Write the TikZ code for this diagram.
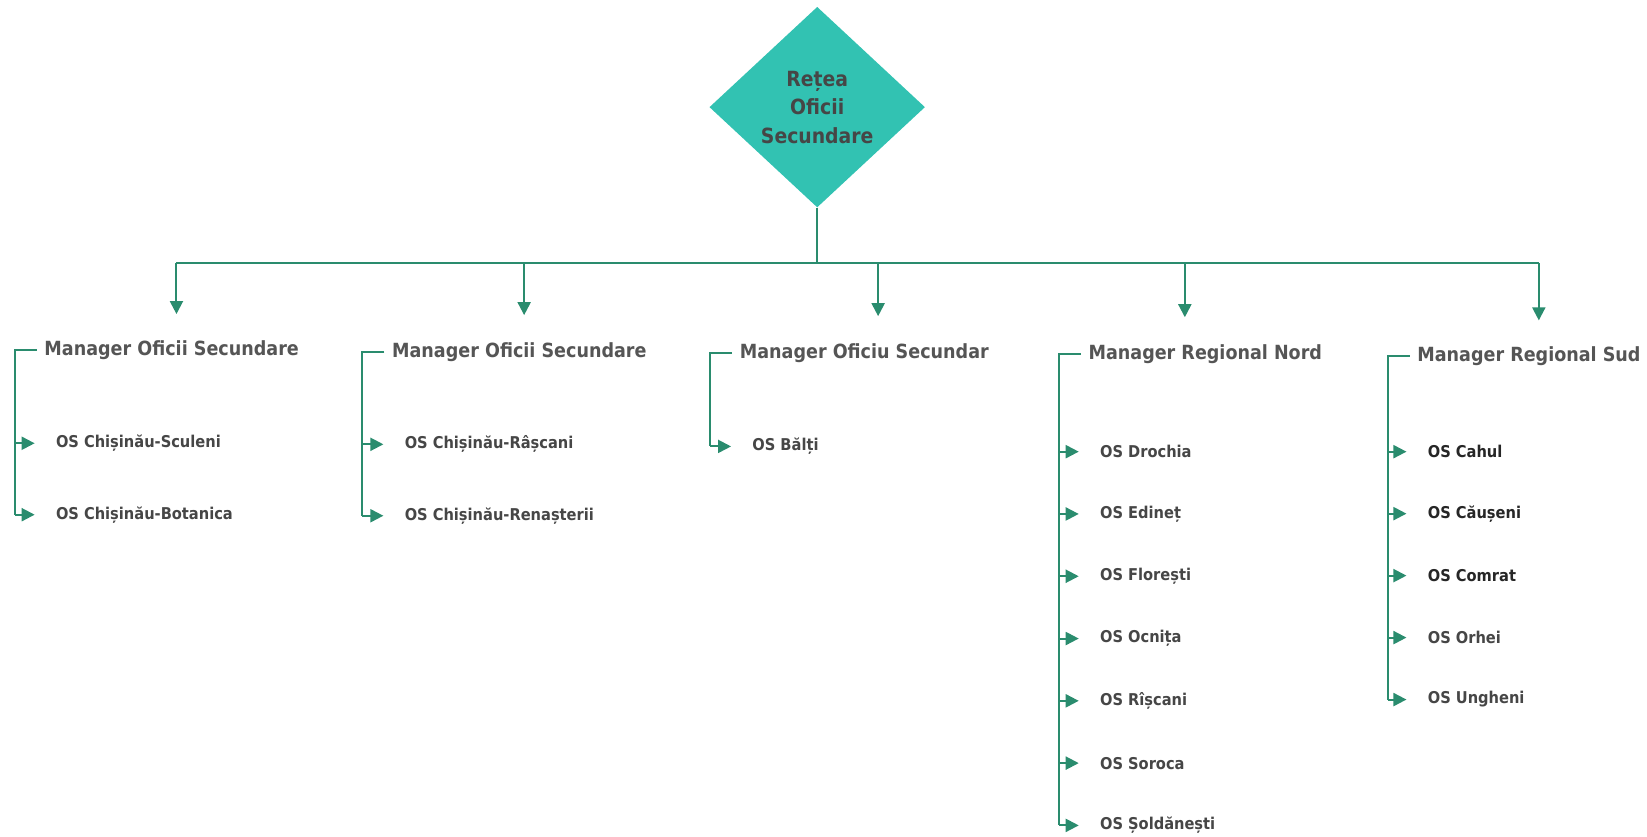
\documentclass[tikz,border=0pt]{standalone}
\usepackage{fontspec}
\setmainfont{DejaVu Sans Condensed}
\usepackage{tikz}
\usetikzlibrary{shapes.geometric}
\usetikzlibrary{arrows.meta, positioning}

\definecolor{diamondteal}{RGB}{50,194,178}
\definecolor{linkgreen}{RGB}{42,140,110}
\definecolor{mgrgray}{RGB}{85,85,85}
\definecolor{osgray}{RGB}{70,70,70}

\tikzset{
    link/.style = {draw=linkgreen, line width=1.15pt},
    arr/.style  = {link, -{Triangle[length=7.4pt, width=7.4pt]}},
    mgr/.style  = {anchor=west, inner sep=0pt, font=\bfseries\fontsize{11.1}{13}\selectfont, text=mgrgray},
    os/.style   = {anchor=west, inner sep=0pt, font=\bfseries\fontsize{9.25}{11}\selectfont, text=osgray},
}

\begin{document}
\begin{tikzpicture}[x=0.021cm, y=-0.021cm]
            \useasboundingbox (0, 0) rectangle (1568, 796);

            % top of the chart
            \node [diamond, fill=diamondteal, aspect=1.07, minimum width=4.31cm, minimum height=4.01cm,
                   inner sep=0pt, align=center, text=osgray,
                   font=\bfseries\fontsize{11.9}{16.2}\selectfont] (retea) at (778, 102)
                {Rețea\\Oficii\\Secundare};

            \node [mgr] (m1) at (42, 333)   {Manager Oficii Secundare};
            \node [mgr] (m2) at (373, 335)  {Manager Oficii Secundare};
            \node [mgr] (m3) at (704, 336)  {Manager Oficiu Secundar};
            \node [mgr] (m4) at (1036, 337) {Manager Regional Nord};
            \node [mgr] (m5) at (1349, 339) {Manager Regional Sud};

            \coordinate (t1) at (168, 299);
            \coordinate (t2) at (499, 300);
            \coordinate (t3) at (836, 301);
            \coordinate (t4) at (1128, 302);
            \coordinate (t5) at (1465, 305);

            \draw [link] (retea.south) --++ (0, 53) coordinate (bus);
            \draw [link] (bus -| t1) -- (bus -| t5);
            \foreach \t in {t1, t2, t3, t4, t5}
                \draw [arr] (bus -| \t) -- (\t);

            % offices under each manager
            \foreach \name [count=\k] in {OS Chișinău-Sculeni, OS Chișinău-Botanica}
                \node [os] (os1\k) at (53, {422 + 68*(\k-1)}) {\name};
            \foreach \name [count=\k] in {OS Chișinău-Râșcani, OS Chișinău-Renașterii}
                \node [os] (os2\k) at (385, {423 + 68*(\k-1)}) {\name};
            \node [os] (os31) at (716, 425) {OS Bălți};
            \foreach \name [count=\k] in {OS Drochia, OS Edineț, OS Florești, OS Ocnița, OS Rîșcani, OS Soroca, OS Șoldănești}
                \node [os] (os4\k) at (1047, {430 + 59.3*(\k-1)}) {\name};
            \foreach \name [count=\k] in {OS Cahul, OS Căușeni, OS Comrat, OS Orhei, OS Ungheni}
                \node [os, text={\ifnum\k<4 black!85\else osgray\fi}] (os5\k) at (1359, {430 + 59*(\k-1)}) {\name};

            % brackets
            \foreach \m/\last/\items in {1/2/{1,2}, 2/2/{1,2}, 3/1/{1}, 4/7/{1,2,3,4,5,6,7}, 5/5/{1,2,3,4,5}} {
                \draw [link] ([xshift=-0.147cm]m\m.west) --++ (-21, 0) coordinate (v\m) -- (v\m |- os\m\last.west);
                \foreach \i in \items
                    \draw [arr] (v\m |- os\m\i.west) -- ([xshift=-0.42cm]os\m\i.west);
            }
        \end{tikzpicture}
\end{document}
